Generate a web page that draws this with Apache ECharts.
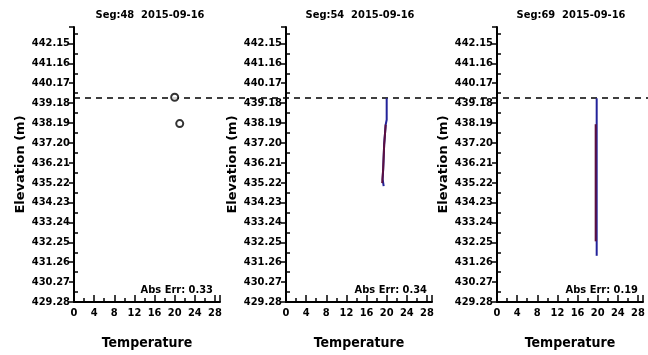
<!DOCTYPE html>
<html>
<head>
<meta charset="utf-8">
<script src="https://cdn.jsdelivr.net/npm/echarts@6/dist/echarts.min.js"></script>
<style>
  html, body { margin: 0; padding: 0; background: #fff; }
  #chart { width: 648px; height: 355px; }
</style>
</head>
<body>
<div id="chart"></div>
<script>
// elevation axis: labels start at 429.28 and step by 0.99
const elevBase = 429.28;
const elevStep = 0.99;
const elevSpan = 13.69;
const tempMax = 29;
const obsLevel = 439.52; // dashed line

const panelTitles = ["Seg:48  2015-09-16", "Seg:54  2015-09-16", "Seg:69  2015-09-16"];
const absErr = ["Abs Err: 0.33", "Abs Err: 0.34", "Abs Err: 0.19"];

// [temperature, elevation]
const seg48Points = [[20.0, 439.47], [21.0, 438.16]];
const seg54Blue = [[20.0, 439.42], [20.0, 438.35], [19.8, 438.11], [19.5, 437.14], [19.3, 435.88], [19.2, 435.39], [19.4, 435.05]];
const seg54Red = [[19.8, 438.11], [19.5, 437.10], [19.3, 435.90], [19.1, 435.20]];
const seg69Blue = [[19.8, 439.42], [19.8, 431.58]];
const seg69Red = [[19.6, 438.13], [19.6, 432.30]];

const FONT = "'Liberation Sans Narrow', 'DejaVu Sans Condensed', 'Liberation Sans', sans-serif";
const shift = (pts) => pts.map(p => [p[0], +(p[1] - elevBase).toFixed(3)]);

const lefts = [74, 286, 497];
const chart = echarts.init(document.getElementById("chart"));

const grids = lefts.map(l => ({ left: l, width: 146, top: 27, bottom: 46 }));
grids.push({ left: 74, right: 0, top: 27, bottom: 46 });

const xAxes = lefts.map((l, i) => ({
  type: "value", gridIndex: i, min: 0, max: tempMax, interval: 4,
  axisLine: { lineStyle: { color: "#000", width: 2 } },
  axisTick: { inside: true, length: 7, lineStyle: { color: "#000", width: 1.5 } },
  minorTick: { show: true, splitNumber: 2, length: 4, lineStyle: { color: "#000", width: 1.5 } },
  splitLine: { show: false },
  axisLabel: { color: "#000", fontFamily: FONT, fontWeight: "bold", fontSize: 11, margin: 6, showMaxLabel: false },
  name: "Temperature", nameLocation: "middle", nameGap: 34,
  nameTextStyle: { color: "#000", fontFamily: FONT, fontWeight: "bold", fontSize: 14 }
}));
xAxes.push({ type: "value", gridIndex: 3, min: 0, max: 1, show: false });

const yAxes = lefts.map((l, i) => ({
  type: "value", gridIndex: i, min: 0, max: elevSpan, interval: elevStep,
  axisLine: { show: true, lineStyle: { color: "#000", width: 2 } },
  axisTick: { show: true, length: 5, lineStyle: { color: "#000", width: 1.5 } },
  minorTick: { show: true, splitNumber: 2, length: -4, lineStyle: { color: "#000", width: 1.5 } },
  splitLine: { show: false },
  axisLabel: {
    color: "#000", fontFamily: FONT, fontWeight: "bold", fontSize: 11, margin: 4, showMaxLabel: false,
    formatter: v => (elevBase + v).toFixed(2)
  },
  name: "Elevation (m)", nameLocation: "middle", nameGap: 47,
  nameTextStyle: { color: "#000", fontFamily: "'DejaVu Sans', sans-serif", fontWeight: "bold", fontSize: 13 }
}));
yAxes.push({ type: "value", gridIndex: 3, min: 0, max: elevSpan, show: false });

const lineSeries = (idx, data, color) => ({
  type: "line", xAxisIndex: idx, yAxisIndex: idx, data: shift(data),
  symbol: "none", lineStyle: { color: color, width: 2 }, animation: false, z: 3
});

chart.setOption({
  animation: false,
  grid: grids,
  xAxis: xAxes,
  yAxis: yAxes,
  graphic: panelTitles.map((t, i) => ({
    type: "text", x: [150, 360, 571][i], y: 15,
    style: { text: t, fill: "#000", font: "bold 11px " + FONT, textAlign: "center", textVerticalAlign: "middle" }
  })).concat(absErr.map((t, i) => ({
    type: "text", x: [213, 427, 638][i], y: 290,
    style: { text: t, fill: "#000", font: "bold 11px " + FONT, textAlign: "right", textVerticalAlign: "middle" }
  }))),
  series: [
    {
      type: "line", xAxisIndex: 3, yAxisIndex: 3, data: [[0, obsLevel - elevBase], [1, obsLevel - elevBase]],
      symbol: "none", lineStyle: { color: "#000", width: 1.5, type: [6, 5] }, z: 1
    },
    {
      type: "scatter", xAxisIndex: 0, yAxisIndex: 0, data: shift(seg48Points),
      symbol: "circle", symbolSize: 7,
      itemStyle: { color: "#fff", borderColor: "#000", borderWidth: 2 }, z: 4
    },
    lineSeries(1, seg54Blue, "#23239a"),
    lineSeries(1, seg54Red, "#5c1040"),
    lineSeries(2, seg69Blue, "#23239a"),
    lineSeries(2, seg69Red, "#5c1040")
  ]
});
</script>
</body>
</html>
